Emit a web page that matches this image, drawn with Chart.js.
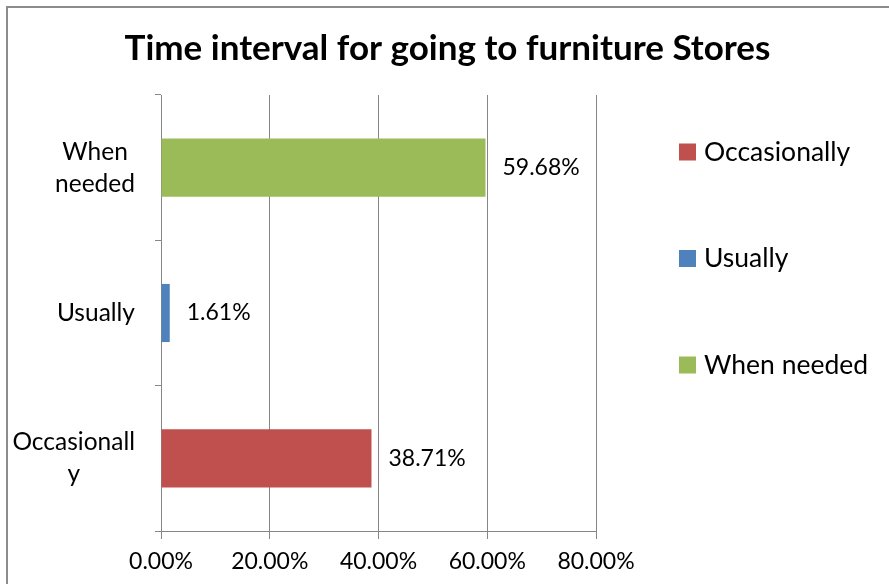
<!DOCTYPE html>
<html>
<head>
<meta charset="utf-8">
<title>Time interval for going to furniture Stores</title>
<script src="https://cdn.jsdelivr.net/npm/chart.js@4.4.1/dist/chart.umd.min.js"></script>
<style>
    html, body { margin: 0; padding: 0; background: #ffffff; overflow: hidden; }
    #frame {
        position: absolute;
        left: 6px; top: 6px;
        width: 900px; height: 600px;
        border: 2px solid #8c8c8c;
        box-sizing: border-box;
    }
    #wrap { position: absolute; left: 0; top: 0; width: 889px; height: 584px; }
</style>
</head>
<body>
<div id="frame"></div>
<div id="wrap"><canvas id="intervalChart" width="889" height="584"></canvas></div>
<script>
const chartTitle = 'Time interval for going to furniture Stores';
const categories = ['Occasionally', 'Usually', 'When needed'];
const axisLabels = [['Occasionall', 'y'], ['Usually'], ['When', 'needed']];
const shares = [38.71, 1.61, 59.68];
const seriesColors = ['#c0504d', '#4f81bd', '#9bbb59'];
const xTicks = [0, 20, 40, 60, 80];

const FONT = "Lato, 'Open Sans', sans-serif";
const GRID = '#868686';

// one dataset per answer so each gets its own legend entry and colour
const datasets = categories.map((name, i) => ({
    label: name,
    data: categories.map((_, j) => (j === i ? shares[i] : null)),
    backgroundColor: seriesColors[i],
    borderWidth: 0,
    barPercentage: 0.4,
    categoryPercentage: 1
}));

// title centred over the whole canvas, not just the plot + axis part
const titlePlugin = {
    id: 'titlePlugin',
    afterDraw(chart) {
        const ctx = chart.ctx;
        ctx.save();
        ctx.font = 'bold 35px ' + FONT;
        ctx.fillStyle = '#000';
        ctx.textAlign = 'center';
        ctx.textBaseline = 'middle';
        ctx.fillText(chartTitle, chart.width / 2 + 3, 49);
        ctx.restore();
    }
};

// value labels just past the end of each bar
const barLabels = {
    id: 'barLabels',
    afterDatasetsDraw(chart) {
        const ctx = chart.ctx;
        ctx.save();
        ctx.font = '23px ' + FONT;
        ctx.fillStyle = '#000';
        ctx.textAlign = 'left';
        ctx.textBaseline = 'middle';
        chart.data.datasets.forEach((ds, i) => {
            const meta = chart.getDatasetMeta(i);
            ds.data.forEach((v, j) => {
                if (v == null) return;
                const bar = meta.data[j];
                ctx.fillText(v.toFixed(2) + '%', bar.x + 17, bar.y);
            });
        });
        ctx.restore();
    }
};

// category names, wrapped lines centred on each other
const categoryLabels = {
    id: 'categoryLabels',
    afterDraw(chart) {
        const ctx = chart.ctx;
        const yScale = chart.scales.y;
        const right = yScale.right - 26;
        const lineH = 32;
        ctx.save();
        ctx.font = '24.5px ' + FONT;
        ctx.fillStyle = '#000';
        ctx.textAlign = 'center';
        ctx.textBaseline = 'middle';
        axisLabels.forEach((lines, i) => {
            const w = Math.max(...lines.map(l => ctx.measureText(l).width));
            const cx = right - w / 2;
            const cy = yScale.getPixelForValue(i);
            lines.forEach((l, k) => {
                ctx.fillText(l, cx, cy + (k - (lines.length - 1) / 2) * lineH);
            });
        });
        ctx.restore();
    }
};

// legend on the right, spaced out like the spreadsheet version
const sideLegend = {
    id: 'sideLegend',
    afterDraw(chart) {
        const ctx = chart.ctx;
        const x = 679, y0 = 152, step = 106.5, box = 17;
        ctx.save();
        ctx.font = '26.5px ' + FONT;
        ctx.textAlign = 'left';
        ctx.textBaseline = 'middle';
        chart.data.datasets.forEach((ds, i) => {
            const y = y0 + i * step;
            ctx.fillStyle = ds.backgroundColor;
            ctx.fillRect(x, y - box / 2, box, box);
            ctx.fillStyle = '#000';
            ctx.fillText(ds.label, x + box + 8, y);
        });
        ctx.restore();
    }
};

new Chart(document.getElementById('intervalChart'), {
    type: 'bar',
    data: { labels: categories, datasets: datasets },
    plugins: [titlePlugin, barLabels, categoryLabels, sideLegend],
    options: {
        indexAxis: 'y',
        responsive: false,
        animation: false,
        layout: { padding: { left: 0, right: 293, top: 95, bottom: 0 } },
        scales: {
            x: {
                stacked: true,
                min: 0,
                max: 80,
                afterBuildTicks(scale) {
                    scale.ticks = xTicks.map(v => ({ value: v }));
                },
                afterFit(scale) { scale.height = 53; },
                ticks: {
                    color: '#000',
                    font: { family: FONT, size: 23 },
                    padding: 9,
                    maxRotation: 0,
                    callback: v => v.toFixed(2) + '%'
                },
                grid: { color: GRID, lineWidth: 1, tickLength: 8 },
                border: { color: GRID, width: 1 }
            },
            y: {
                stacked: true,
                reverse: true,
                afterFit(scale) { scale.width = 161; },
                ticks: { display: false },
                grid: {
                    offset: true,
                    drawOnChartArea: false,
                    color: GRID,
                    tickLength: 6
                },
                border: { color: GRID, width: 1 }
            }
        },
        plugins: {
            legend: { display: false },
            tooltip: { enabled: false },
            title: { display: false }
        }
    }
});
</script>
</body>
</html>
